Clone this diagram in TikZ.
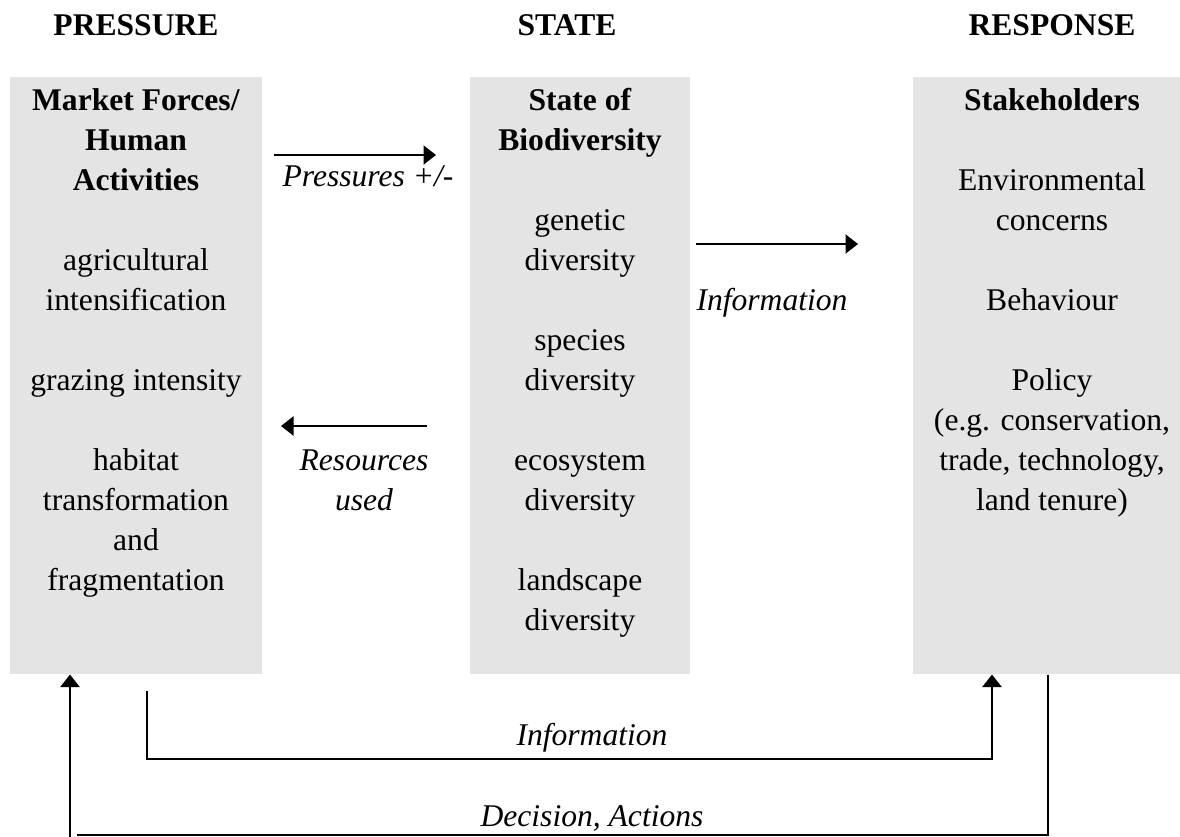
\documentclass[tikz,border=0pt]{standalone}
\usepackage{fontspec}
\setmainfont{Liberation Serif}
\usepackage{xcolor}
\usepackage{tikz}
\usetikzlibrary{arrows.meta, positioning, calc}
\definecolor{panelgray}{HTML}{E4E4E4}
\definecolor{inkblack}{HTML}{000000}
\newcommand{\dpsrfont}{\fontsize{12.64pt}{16pt}\selectfont}

\begin{document}
\begin{tikzpicture}[
    x=0.4pt, y=-0.4pt,
    panel/.style={rectangle, draw=none, fill=panelgray, minimum width=#1, minimum height=238.8pt, inner sep=0pt},
    heading/.style={anchor=base, font=\dpsrfont\bfseries, inner sep=0pt},
    coltext/.style={anchor=north, align=center, font=\dpsrfont, inner sep=0pt},
    flowlabel/.style={font=\dpsrfont\itshape, align=center, inner sep=0pt},
    flow/.style={draw=inkblack, line width=0.9pt, -{Triangle[length=5pt, width=7.6pt]}},
    link/.style={draw=inkblack, line width=1pt},
]
\useasboundingbox (0,0) rectangle (1180,836);

\node[heading] (hpress) at (136,35) {PRESSURE};
\node[heading] (hstate) at (567,35) {STATE};
\node[heading] (hresp) at (1052,35) {RESPONSE};

\node[panel=100.8pt] (press) at (136,375.5) {};
\node[panel=88pt] (state) at (580,375.5) {};
\node[panel=111.2pt] (resp) at (1052,375.5) {};

\node[coltext] (presstext) at (136,82) {\strut\textbf{Market Forces/}\\\textbf{Human}\\\textbf{Activities}\\[16pt]
  agricultural\\intensification\\[16pt] grazing intensity\\[16pt] habitat\\transformation\\and\\fragmentation};
\node[coltext] (statetext) at (580,82) {\strut\textbf{State of}\\\textbf{Biodiversity}\\[16pt]
  genetic\\diversity\\[16pt] species\\diversity\\[16pt] ecosystem\\diversity\\[16pt] landscape\\diversity};
\node[coltext] (resptext) at (1052,82) {\strut\textbf{Stakeholders}\\[16pt]
  Environmental\\concerns\\[16pt] Behaviour\\[16pt] Policy\\(e.g. conservation,\\trade, technology,\\land tenure)};

\coordinate (pressA) at (274,155);
\coordinate (pressB) at (436,155);
\draw[flow] (pressA) -- (pressB);
\node[flowlabel, anchor=base] (presslbl) at (368,186) {Pressures +/-};

\coordinate (resA) at (427,426);
\coordinate (resB) at (281,426);
\draw[flow] (resA) -- (resB);
\node[flowlabel, anchor=north] (reslbl) at (364,442) {\strut Resources\\used};

\coordinate (infoA) at (696,244);
\coordinate (infoB) at (858,244);
\draw[flow] (infoA) -- (infoB);
\node[flowlabel, anchor=base] (infolbl) at (772,310) {Information};

\coordinate (fbA) at (147,691);
\coordinate (fbB) at (992,759);
\draw[flow] (fbA) |- (fbB) -- (fbB |- resp.south);
\node[flowlabel, anchor=base] (fblbl) at (592,745) {Information};

\coordinate (decA) at (1048,835);
\coordinate (decB) at (77,835);
\coordinate (decC) at (70,840);
\draw[link] (resp.south -| decA) -- (decA) -- (decB);
\draw[flow] (decC) -- (decC |- press.south);
\node[flowlabel, anchor=base] (declbl) at (592,826) {Decision, Actions};
\end{tikzpicture}
\end{document}
